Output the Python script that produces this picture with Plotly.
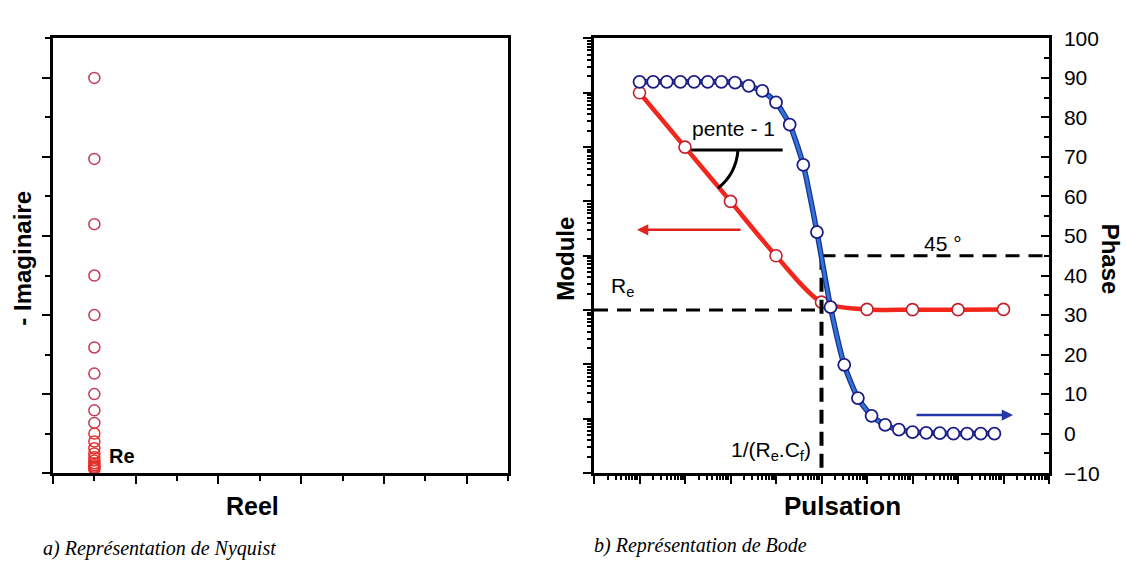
import plotly.graph_objects as go

# ---------------- data ----------------
# a) Nyquist : real part (constant = Re) and minus imaginary part
NYQ_REAL = [1.0, 1.0, 1.0, 1.0, 1.0, 1.0, 1.0, 1.0, 1.0, 1.0, 1.0,
            1.0, 1.0, 1.0, 1.0, 1.0, 1.0, 1.0, 1.0, 1.0, 1.0]
NYQ_NEG_IMAG = [10.0, 7.95, 6.3, 5.0, 4.0, 3.18, 2.52, 2.0, 1.59, 1.27, 1.0,
                0.8, 0.63, 0.5, 0.4, 0.32, 0.25, 0.2, 0.16, 0.13, 0.1]

# b) Bode : module (red) and phase (blue)
BODE_OMEGA_MOD = [1e-4, 1e-3, 1e-2, 1e-1, 1e0, 1e1, 1e2, 1e3, 1e4]
BODE_MODULE = [10000, 1000, 100, 10, 1.4, 1.03, 1.02, 1.02, 1.03]

BODE_OMEGA_PHASE = [1.0e-4, 2.0e-4, 3.98e-4, 7.94e-4, 1.58e-3, 3.16e-3, 6.31e-3,
                    1.26e-2, 2.51e-2, 5.01e-2, 0.1, 0.2, 0.398, 0.794, 1.58,
                    3.16, 6.31, 12.6, 25.1, 50.1, 100, 200, 398, 794, 1585,
                    3162, 6310]
BODE_PHASE = [89, 89, 89, 89, 89, 89, 89, 88.8, 88.0, 86.7, 83.8, 78.2, 68.0,
              51.0, 32.0, 17.4, 9.0, 4.5, 2.2, 1.0, 0.4, 0.2, 0.1, 0, 0, 0, 0]

RE_VALUE = 1.0        # Re (module plateau)
OMEGA_C = 1.0         # 1/(Re.Cf)
PHASE_MARK = 45       # 45 degrees
OMEGA_MIN, OMEGA_MAX = 1e-5, 1e5

# ---------------- geometry helpers ----------------
W, H = 1126, 571


def fx(p):
    return p / W


def fy(p):
    return 1 - p / H


FONT = "Liberation Sans, Arial, sans-serif"
SERIF = "Liberation Serif, Times New Roman, serif"

fig = go.Figure()

# ---- Nyquist ----
nyq_colors = ["#c43a58"] * 10 + ["#e3302c"] * (len(NYQ_NEG_IMAG) - 10)
fig.add_trace(go.Scatter(
    x=NYQ_REAL, y=NYQ_NEG_IMAG, mode="markers", xaxis="x", yaxis="y",
    marker=dict(symbol="circle-open", size=11, color=nyq_colors,
                line=dict(width=1.5, color=nyq_colors)),
    showlegend=False, hoverinfo="skip"))

# ---- Bode: dashed guide lines ----
dash_style = dict(color="black", width=3, dash="14px,9px")
fig.add_trace(go.Scatter(x=[OMEGA_MIN, OMEGA_C], y=[RE_VALUE, RE_VALUE],
                         mode="lines", xaxis="x2", yaxis="y2",
                         line=dash_style, showlegend=False, hoverinfo="skip"))
fig.add_trace(go.Scatter(x=[OMEGA_C, OMEGA_C], y=[PHASE_MARK, -10],
                         mode="lines", xaxis="x2", yaxis="y3",
                         line=dict(color="black", width=4, dash="14px,8px"),
                         showlegend=False, hoverinfo="skip"))
fig.add_trace(go.Scatter(x=[OMEGA_C, OMEGA_MAX], y=[PHASE_MARK, PHASE_MARK],
                         mode="lines", xaxis="x2", yaxis="y3",
                         line=dash_style, showlegend=False, hoverinfo="skip"))

# slope marker line ("pente - 1")
fig.add_trace(go.Scatter(x=[BODE_OMEGA_MOD[1], 0.14],
                         y=[BODE_MODULE[1] * 0.88, BODE_MODULE[1] * 0.88],
                         mode="lines", xaxis="x2", yaxis="y2",
                         line=dict(color="black", width=3),
                         showlegend=False, hoverinfo="skip"))

# ---- Bode: module (red) ----
fig.add_trace(go.Scatter(
    x=BODE_OMEGA_MOD, y=BODE_MODULE, mode="lines", xaxis="x2", yaxis="y2",
    line=dict(color="#f2261a", width=4.5, shape="spline", smoothing=0.8),
    showlegend=False, hoverinfo="skip"))

# ---- Bode: phase (blue) ----
fig.add_trace(go.Scatter(
    x=BODE_OMEGA_PHASE, y=BODE_PHASE, mode="lines", xaxis="x2", yaxis="y3",
    line=dict(color="#1d2f8f", width=5.5, shape="spline", smoothing=0.6),
    showlegend=False, hoverinfo="skip"))
fig.add_trace(go.Scatter(
    x=BODE_OMEGA_PHASE, y=BODE_PHASE, mode="lines", xaxis="x2", yaxis="y3",
    line=dict(color="#2f74d8", width=3, shape="spline", smoothing=0.6),
    showlegend=False, hoverinfo="skip"))

fig.add_trace(go.Scatter(
    x=BODE_OMEGA_MOD, y=BODE_MODULE, mode="markers", xaxis="x2", yaxis="y2",
    marker=dict(symbol="circle", size=12, color="white",
                line=dict(width=1.6, color="#c2202e")),
    showlegend=False, hoverinfo="skip"))
fig.add_trace(go.Scatter(
    x=BODE_OMEGA_PHASE, y=BODE_PHASE, mode="markers", xaxis="x2", yaxis="y3",
    marker=dict(symbol="circle", size=12, color="white",
                line=dict(width=1.8, color="#1c1c86")),
    showlegend=False, hoverinfo="skip"))

# ---------------- axes ----------------
ydom = [fy(480.5), fy(27.5)]
common = dict(showgrid=False, zeroline=False, showline=True, linecolor="black",
              ticks="outside", tickcolor="black", showticklabels=False)

layout = dict(
    autosize=True, margin=dict(l=0, r=0, t=0, b=0),
    paper_bgcolor="white", plot_bgcolor="white",
    font=dict(family=FONT, color="black", size=21),
    showlegend=False,
    xaxis=dict(**common, domain=[fx(53), fx(508)], range=[0, 11], anchor="y",
               linewidth=2.5, mirror=True, tick0=0, dtick=2, ticklen=8,
               tickwidth=2,
               minor=dict(ticks="outside", dtick=1, ticklen=5, tickwidth=2,
                          tickcolor="black")),
    yaxis=dict(**common, domain=ydom, range=[0, 11], anchor="x",
               linewidth=2.5, mirror=True, tick0=0, dtick=2, ticklen=8,
               tickwidth=2,
               minor=dict(ticks="outside", dtick=1, ticklen=5, tickwidth=2,
                          tickcolor="black")),
    xaxis2=dict(**common, domain=[fx(594), fx(1049)], type="log",
                range=[-5, 5], anchor="y2", linewidth=2.5, mirror=True,
                dtick=1, ticklen=8, tickwidth=2,
                minor=dict(ticks="outside", dtick="D1", ticklen=4,
                           tickwidth=1.5, tickcolor="black")),
    yaxis2=dict(**common, domain=ydom, type="log", range=[-3, 5],
                anchor="x2", linewidth=2.5, dtick=1, ticklen=8, tickwidth=2,
                minor=dict(ticks="outside", dtick="D1", ticklen=4,
                           tickwidth=1.5, tickcolor="black")),
    yaxis3=dict(showgrid=False, zeroline=False, showline=True,
                linecolor="black", linewidth=2.5, overlaying="y2",
                side="right", anchor="x2", range=[-10, 100],
                tick0=0, dtick=10, ticks="inside", ticklen=8, tickwidth=2,
                tickcolor="black", ticklabelstandoff=8,
                tickfont=dict(family=FONT, size=21, color="black"),
                minor=dict(ticks="inside", dtick=5, ticklen=5, tickwidth=2,
                           tickcolor="black")),
)

ann = []


def txt(x, y, text, size=21, bold=False, angle=0, font=FONT, xanchor="center"):
    if bold:
        text = "<b>" + text + "</b>"
    ann.append(dict(x=fx(x), y=fy(y), xref="paper", yref="paper", text=text,
                    showarrow=False, textangle=angle, xanchor=xanchor,
                    yanchor="middle",
                    font=dict(family=font, size=size, color="black")))


# axis titles
txt(23, 257, "- Imaginaire", size=24, bold=True, angle=-90)
txt(252, 515, "Reel", size=25, bold=True)
txt(566, 257, "Module", size=24, bold=True, angle=-90)
txt(1110, 257, "Phase", size=24, bold=True, angle=90)
txt(842, 515, "Pulsation", size=26, bold=True)

# labels inside plots
txt(122, 463, "Re", size=20, bold=True)
txt(733, 121, "pente - 1", size=21)
txt(622, 287, "R<sub>e</sub>", size=21)
txt(943, 241, "45 °", size=21)
txt(771, 457, "1/(R<sub>e</sub>.C<sub>f</sub>)", size=21)

# captions
txt(41, 559, "<i>a) Représentation de Nyquist</i>", size=20, font=SERIF,
    xanchor="left")
txt(592, 556, "<i>b) Représentation de Bode</i>", size=20, font=SERIF,
    xanchor="left")

# arrows
ann.append(dict(x=fx(637), y=fy(227), xref="paper", yref="paper", text="",
                showarrow=True, ax=105, ay=0, arrowhead=2, arrowsize=0.9,
                arrowwidth=2.5, arrowcolor="#e0241c", standoff=0))
ann.append(dict(x=fx(1013), y=fy(420), xref="paper", yref="paper", text="",
                showarrow=True, ax=-98, ay=0, arrowhead=2, arrowsize=0.9,
                arrowwidth=2.5, arrowcolor="#2438a8", standoff=0))

layout["annotations"] = ann

# angle arc near the slope marker (pixel path anchored on a module point)
layout["shapes"] = [dict(
    type="path", xref="x2", yref="y2", xsizemode="pixel", ysizemode="pixel",
    xanchor=BODE_OMEGA_MOD[1], yanchor=BODE_MODULE[1],
    path="M 53,-3 Q 51,-27 33,-41",
    line=dict(color="black", width=3))]

fig.update_layout(**layout)

post = ("document.documentElement.style.margin='0';"
        "document.documentElement.style.overflow='hidden';"
        "document.body.style.margin='0';"
        "document.body.style.overflow='hidden';"
        "var gd=document.getElementById('{plot_id}');"
        "gd.style.width='100vw';gd.style.height='100vh';"
        "Plotly.Plots.resize(gd);")

fig.write_html("out.html", include_plotlyjs=True, full_html=True,
               config={"displayModeBar": False, "responsive": True},
               default_width="100vw", default_height="100vh",
               post_script=post)
